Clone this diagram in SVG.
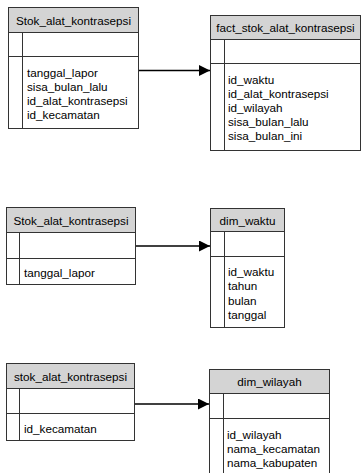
<svg xmlns="http://www.w3.org/2000/svg" width="361" height="473" viewBox="0 0 361 473">
<defs>
<style>
.box{fill:#fff;stroke:#333;stroke-width:1}
.hdr{fill:#d4d4d4;stroke:#333;stroke-width:1}
.ln{stroke:#333;stroke-width:1;fill:none}
text{font-family:"Liberation Sans",Arial,sans-serif;font-size:11.7px;fill:#000}
.c{text-anchor:middle}
.conn{stroke:#000;stroke-width:1.3;fill:none;marker-end:url(#arr)}
</style>
<marker id="arr" viewBox="0 0 10 10" refX="10" refY="5" markerWidth="12" markerHeight="11" markerUnits="userSpaceOnUse" orient="auto">
<path d="M0,0 L10,5 L0,10 z" fill="#000"/>
</marker>
</defs>
<rect width="361" height="473" fill="#fff"/>
<g id="connectors">
<line class="conn" x1="139" y1="70.5" x2="210" y2="70.5"/>
<line class="conn" x1="136" y1="246" x2="210" y2="246"/>
<line class="conn" x1="134" y1="404" x2="209" y2="404"/>
</g>
<g id="stok1">
<rect class="box" x="8.5" y="7.5" width="130" height="121"/>
<rect class="hdr" x="8.5" y="7.5" width="130" height="25"/>
<line class="ln" x1="8.5" y1="56.5" x2="138.5" y2="56.5"/>
<line class="ln" x1="22.5" y1="32.5" x2="22.5" y2="128.5"/>
<text class="c" x="73.5" y="24.5">Stok_alat_kontrasepsi</text>
<text x="27" y="77">tanggal_lapor</text>
<text x="27" y="91">sisa_bulan_lalu</text>
<text x="27" y="105">id_alat_kontrasepsi</text>
<text x="27" y="119">id_kecamatan</text>
</g>
<g id="fact">
<rect class="box" x="210.5" y="15.5" width="150" height="135"/>
<rect class="hdr" x="210.5" y="15.5" width="150" height="24"/>
<line class="ln" x1="210.5" y1="63.5" x2="360.5" y2="63.5"/>
<line class="ln" x1="224.5" y1="39.5" x2="224.5" y2="150.5"/>
<text class="c" x="285.5" y="31.5">fact_stok_alat_kontrasepsi</text>
<text x="228" y="84">id_waktu</text>
<text x="228" y="98">id_alat_kontrasepsi</text>
<text x="228" y="112">id_wilayah</text>
<text x="228" y="126">sisa_bulan_lalu</text>
<text x="228" y="140">sisa_bulan_ini</text>
</g>
<g id="stok2">
<rect class="box" x="6.5" y="207.5" width="129" height="77"/>
<rect class="hdr" x="6.5" y="207.5" width="129" height="25"/>
<line class="ln" x1="6.5" y1="258.5" x2="135.5" y2="258.5"/>
<line class="ln" x1="19.5" y1="232.5" x2="19.5" y2="284.5"/>
<text class="c" x="71" y="224.5">Stok_alat_kontrasepsi</text>
<text x="24" y="276.5">tanggal_lapor</text>
</g>
<g id="dim_waktu">
<rect class="box" x="210.5" y="208.5" width="74" height="119"/>
<rect class="hdr" x="210.5" y="208.5" width="74" height="23"/>
<line class="ln" x1="210.5" y1="256.5" x2="284.5" y2="256.5"/>
<line class="ln" x1="224.5" y1="231.5" x2="224.5" y2="327.5"/>
<text class="c" x="247.5" y="224.5">dim_waktu</text>
<text x="228" y="276">id_waktu</text>
<text x="228" y="290">tahun</text>
<text x="228" y="305">bulan</text>
<text x="228" y="319">tanggal</text>
</g>
<g id="stok3">
<rect class="box" x="6.5" y="363.5" width="128" height="77"/>
<rect class="hdr" x="6.5" y="363.5" width="128" height="25"/>
<line class="ln" x1="6.5" y1="413.5" x2="134.5" y2="413.5"/>
<line class="ln" x1="19.5" y1="388.5" x2="19.5" y2="440.5"/>
<text class="c" x="70.5" y="380.5">stok_alat_kontrasepsi</text>
<text x="24" y="433">id_kecamatan</text>
</g>
<g id="dim_wilayah">
<rect class="box" x="209.5" y="369.5" width="120" height="110"/>
<rect class="hdr" x="209.5" y="369.5" width="120" height="24"/>
<line class="ln" x1="209.5" y1="418.5" x2="329.5" y2="418.5"/>
<line class="ln" x1="223.5" y1="393.5" x2="223.5" y2="479"/>
<text class="c" x="269.5" y="385.5">dim_wilayah</text>
<text x="227" y="439">id_wilayah</text>
<text x="227" y="453">nama_kecamatan</text>
<text x="227" y="467">nama_kabupaten</text>
</g>
</svg>
